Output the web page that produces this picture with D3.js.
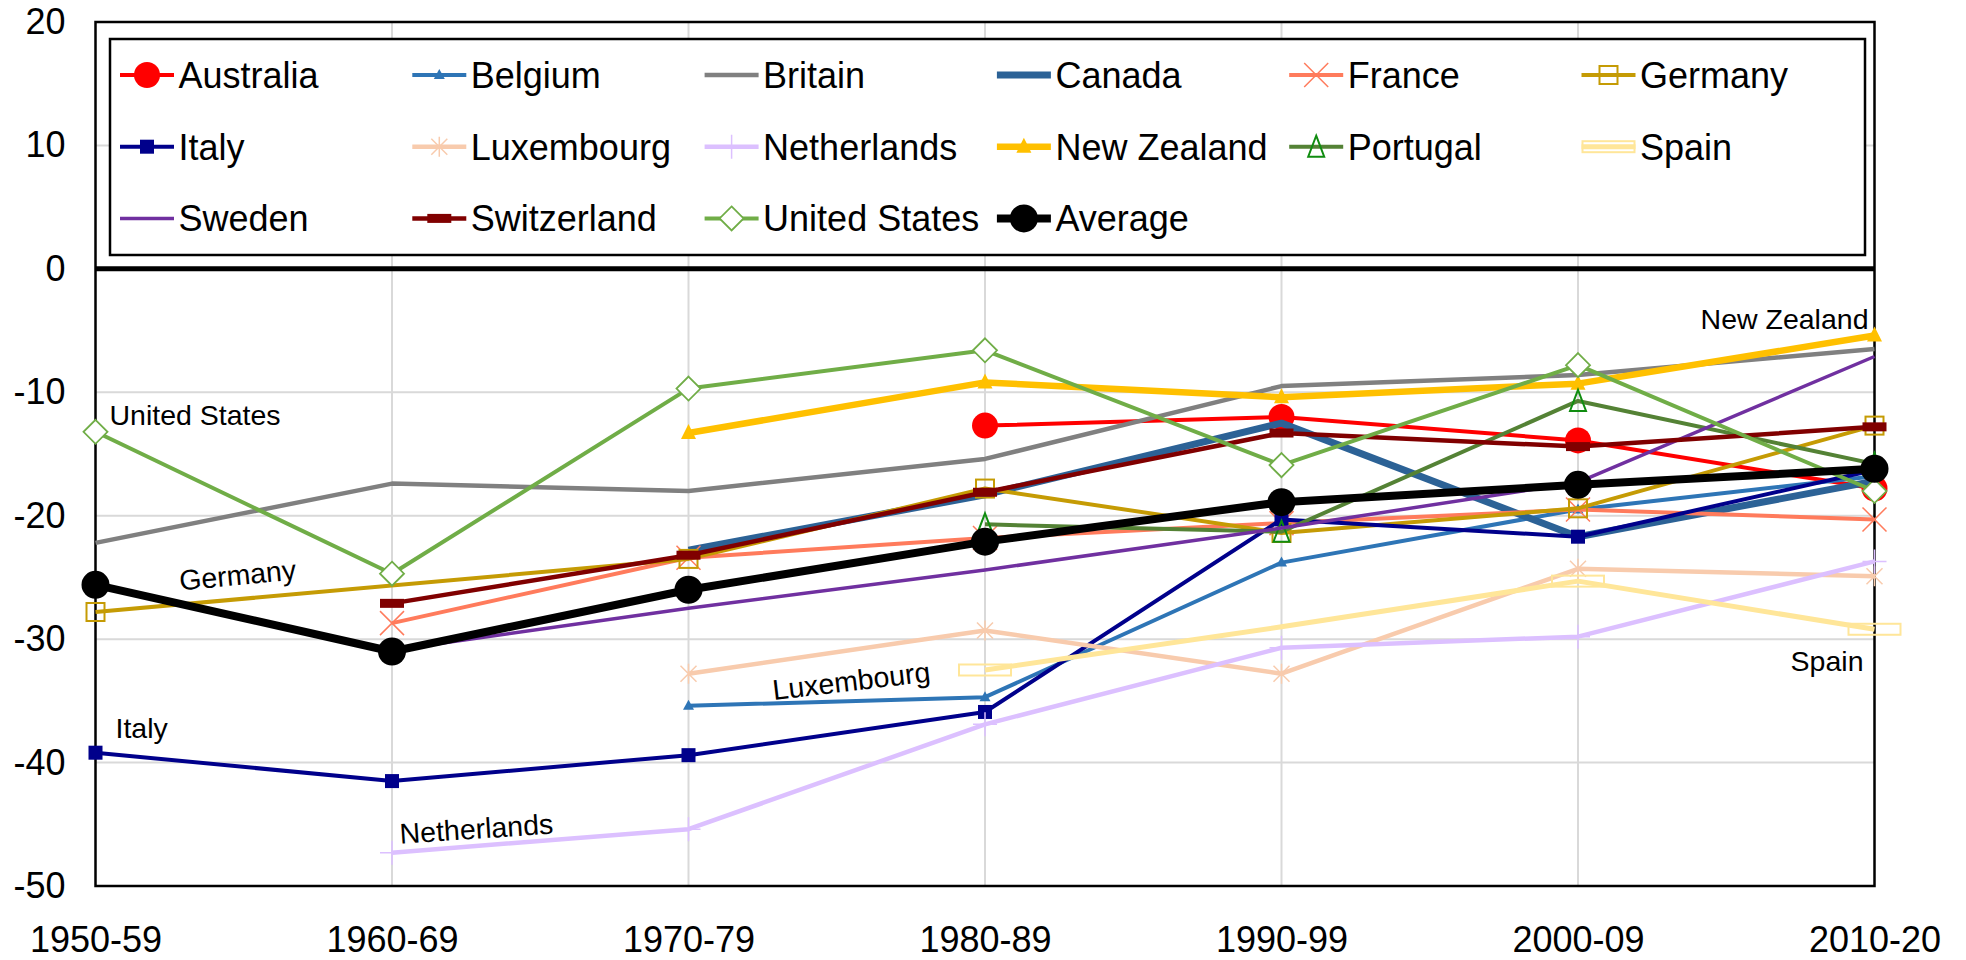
<!DOCTYPE html>
<html><head><meta charset="utf-8">
<script src="https://cdn.jsdelivr.net/npm/d3@7"></script>
<style>body{margin:0;background:#fff}svg{display:block}text{font-family:"Liberation Sans",Arial,sans-serif}</style>
</head><body><svg id="c" width="1966" height="960"></svg>
<script>
// ---------- data ----------
const categories = ["1950-59","1960-69","1970-79","1980-89","1990-99","2000-09","2010-20"];
const yTicks = [20,10,0,-10,-20,-30,-40,-50];
const australia   = [null,null,null,-12.7,-12.0,-13.9,-17.8];
const belgium     = [null,null,-35.4,-34.7,-23.8,-19.5,-16.8];
const britain     = [-22.2,-17.4,-18.0,-15.4,-9.5,-8.6,-6.5];
const canada      = [null,null,-22.8,-18.3,-12.5,-21.7,-17.2];
const france      = [null,-28.7,-23.4,-21.8,-20.6,-19.5,-20.3];
const germany     = [-27.8,null,-23.5,-17.8,-21.4,-19.4,-12.7];
const italy       = [-39.2,-41.5,-39.4,-35.9,-20.3,-21.7,-16.3];
const luxembourg  = [null,null,-32.8,-29.3,-32.8,-24.3,-24.9];
const netherlands = [null,-47.3,-45.4,-36.9,-30.7,-29.8,-23.7];
const newZealand  = [null,null,-13.3,-9.2,-10.4,-9.3,-5.4];
const portugal    = [null,null,null,-20.7,-21.3,-10.7,-15.8];
const spain       = [null,null,null,-32.5,-29.0,-25.3,-29.2];
const spainMarked = [false,false,false,true,false,true,true];
const sweden      = [null,-30.9,-27.5,-24.4,-21.0,-17.3,-7.1];
const switzerland = [null,-27.1,-23.2,-18.1,-13.3,-14.4,-12.8];
const unitedStates= [-13.2,-24.7,-9.7,-6.6,-15.9,-7.8,-18.0];
const average     = [-25.6,-31.0,-26.0,-22.1,-18.9,-17.5,-16.2];
const labels = [
  {text:"United States", cat:0, v:-13.2},
  {text:"Germany", cat:0, v:-27.8},
  {text:"Italy", cat:0, v:-39.2},
  {text:"Netherlands", cat:1, v:-47.3},
  {text:"Luxembourg", cat:2, v:-32.8},
  {text:"New Zealand", cat:6, v:-5.4},
  {text:"Spain", cat:6, v:-29.2}
];

// ---------- styles ----------
const series = [
  {name:"Australia", data:australia, color:"#ff0000", w:4, m:"circle"},
  {name:"Belgium", data:belgium, color:"#2e75b6", w:4, m:"tri-small"},
  {name:"Britain", data:britain, color:"#808080", w:4.5, m:null},
  {name:"Canada", data:canada, color:"#2c6296", w:7, m:null},
  {name:"France", data:france, color:"#ff7b5c", w:4, m:"x"},
  {name:"Germany", data:germany, color:"#c59b04", w:4, m:"square-open"},
  {name:"Italy", data:italy, color:"#00008b", w:4, m:"square"},
  {name:"Luxembourg", data:luxembourg, color:"#f8cbad", w:4.5, m:"star"},
  {name:"Netherlands", data:netherlands, color:"#dcc0ff", w:4.5, m:"plus"},
  {name:"New Zealand", data:newZealand, color:"#ffc000", w:6.5, m:"tri"},
  {name:"Portugal", data:portugal, color:"#548235", w:4, m:"tri-open", mc:"#108c10"},
  {name:"Spain", data:spain, color:"#ffe699", w:5, m:"rect-open", mask:spainMarked},
  {name:"Sweden", data:sweden, color:"#7030a0", w:3.5, m:null},
  {name:"Switzerland", data:switzerland, color:"#800000", w:4.5, m:"dash"},
  {name:"United States", data:unitedStates, color:"#70ad47", w:4, m:"diamond"},
  {name:"Average", data:average, color:"#000000", w:8, m:"circle-big"}
];

const FONT = '"Liberation Sans",Arial,sans-serif';
const L = 95.5, R = 1874.5, T = 22, B = 886;
const svg = d3.select("#c");
const x = d3.scalePoint().domain(categories).range([L, R]);
const y = d3.scaleLinear().domain([-50, 20]).range([B, T]);

// grid
const grid = svg.append("g");
grid.selectAll("line.h").data(yTicks).join("line")
  .attr("x1", L).attr("x2", R).attr("y1", d => y(d)).attr("y2", d => y(d))
  .attr("stroke", "#d9d9d9").attr("stroke-width", 2);
grid.selectAll("line.v").data(categories.slice(1, -1)).join("line")
  .attr("x1", d => x(d)).attr("x2", d => x(d)).attr("y1", T).attr("y2", B)
  .attr("stroke", "#d9d9d9").attr("stroke-width", 2);

// frame
svg.append("rect").attr("x", L).attr("y", T).attr("width", R - L).attr("height", B - T)
  .attr("fill", "none").attr("stroke", "#000").attr("stroke-width", 2.5);

// axes
const ya = svg.append("g").attr("transform", `translate(${L},0)`)
  .call(d3.axisLeft(y).tickValues(yTicks).tickSize(0).tickPadding(30).tickFormat(d => String(d)));
ya.select(".domain").remove();
ya.attr("font-family", FONT).attr("font-size", 36);
ya.selectAll("text").attr("fill", "#000");

const xa = svg.append("g").attr("transform", `translate(0,${B})`)
  .call(d3.axisBottom(x).tickSize(0).tickPadding(40));
xa.select(".domain").remove();
xa.attr("font-family", FONT).attr("font-size", 36);
xa.selectAll("text").attr("fill", "#000");

// marker drawing
function marker(g, type, cx, cy, color, mc) {
  const t = g.append("g").attr("transform", `translate(${cx},${cy})`);
  const c = mc || color;
  switch (type) {
    case "circle": t.append("circle").attr("r", 13).attr("fill", c); break;
    case "circle-big": t.append("circle").attr("r", 14).attr("fill", c); break;
    case "tri-small": t.append("path").attr("d", "M0,-6L5.5,4L-5.5,4Z").attr("fill", c); break;
    case "tri": t.append("path").attr("d", "M0,-9L7.5,6L-7.5,6Z").attr("fill", c); break;
    case "tri-open": t.append("path").attr("d", "M0,-11L8,10L-8,10Z").attr("fill", "none").attr("stroke", c).attr("stroke-width", 2); break;
    case "square": t.append("rect").attr("x", -7).attr("y", -7).attr("width", 14).attr("height", 14).attr("fill", c); break;
    case "square-open": t.append("rect").attr("x", -9).attr("y", -9).attr("width", 18).attr("height", 18).attr("fill", "none").attr("stroke", c).attr("stroke-width", 2); break;
    case "rect-open": t.append("rect").attr("x", -26).attr("y", -5.5).attr("width", 52).attr("height", 11).attr("fill", "none").attr("stroke", c).attr("stroke-width", 2); break;
    case "x": t.append("path").attr("d", "M-12,-12L12,12M-12,12L12,-12").attr("stroke", c).attr("stroke-width", 1.5); break;
    case "star": t.append("path").attr("d", "M-8,-8L8,8M-8,8L8,-8M0,-10L0,10").attr("stroke", c).attr("stroke-width", 1.5); break;
    case "plus": t.append("path").attr("d", "M0,-12L0,12M-12,0L12,0").attr("stroke", c).attr("stroke-width", 1.5); break;
    case "dash": t.append("rect").attr("x", -12).attr("y", -4.5).attr("width", 24).attr("height", 9).attr("fill", c); break;
    case "diamond": t.append("path").attr("d", "M0,-12L12,0L0,12L-12,0Z").attr("fill", "#fff").attr("stroke", c).attr("stroke-width", 1.8); break;
  }
}

// series
const line = d3.line().x(d => x(d.cat)).y(d => y(d.v));
const plot = svg.append("g");
series.forEach(s => {
  const pts = s.data.map((v, i) => ({cat: categories[i], v, i})).filter(d => d.v != null);
  const g = plot.append("g");
  g.append("path").attr("d", line(pts)).attr("fill", "none")
    .attr("stroke", s.color).attr("stroke-width", s.w).attr("stroke-linejoin", "round").attr("stroke-linecap", "butt");
  if (s.m) pts.forEach(d => {
    if (s.mask && !s.mask[d.i]) return;
    marker(g, s.m, x(d.cat), y(d.v), s.color, s.mc);
  });
});

// zero line
svg.append("line").attr("x1", L).attr("x2", R).attr("y1", y(0)).attr("y2", y(0))
  .attr("stroke", "#000").attr("stroke-width", 5);

// annotations (positions relative to the labelled series point)
const ann = svg.append("g").attr("font-family", FONT).attr("font-size", 28.5).attr("fill", "#000");
const annPos = {
  "United States": {dx: 14, dy: -7, rot: 0, anchor: "start"},
  "Germany": {dx: 143, dy: -27, rot: -5.5, anchor: "middle"},
  "Italy": {dx: 20, dy: -15, rot: 0, anchor: "start"},
  "Netherlands": {dx: 85, dy: -14, rot: -3.8, anchor: "middle"},
  "Luxembourg": {dx: 164, dy: 17, rot: -6.8, anchor: "middle"},
  "New Zealand": {dx: -6, dy: -7, rot: 0, anchor: "end"},
  "Spain": {dx: -11, dy: 42, rot: 0, anchor: "end"}
};
labels.forEach(l => {
  const p = annPos[l.text];
  const px = x(categories[l.cat]) + p.dx, py = y(l.v) + p.dy;
  ann.append("text").attr("x", px).attr("y", py).attr("text-anchor", p.anchor)
    .attr("transform", p.rot ? `rotate(${p.rot},${px},${py})` : null).text(l.text);
});

// legend
const lg = svg.append("g");
lg.append("rect").attr("x", 110).attr("y", 39).attr("width", 1755).attr("height", 216)
  .attr("fill", "#fff").attr("stroke", "#000").attr("stroke-width", 2.5);
series.forEach((s, i) => {
  const col = i % 6, row = Math.floor(i / 6);
  const lx = 120 + col * 292.3, ly = 75 + row * 71.7;
  const g = lg.append("g");
  g.append("line").attr("x1", lx).attr("x2", lx + 54).attr("y1", ly).attr("y2", ly)
    .attr("stroke", s.color).attr("stroke-width", s.w);
  if (s.m) marker(g, s.m, lx + 27, ly, s.color, s.mc);
  g.append("text").attr("x", lx + 58.5).attr("y", ly + 13).attr("font-family", FONT)
    .attr("font-size", 36).attr("fill", "#000").text(s.name);
});
</script></body></html>
